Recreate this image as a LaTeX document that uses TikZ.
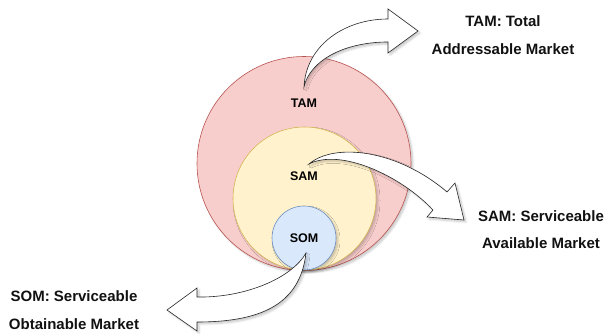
\documentclass[tikz,border=0pt]{standalone}
\usepackage{fontspec}
\setmainfont{Liberation Sans}
\usetikzlibrary{shadows.blur}

\definecolor{tamfill}{HTML}{F8CECC}
\definecolor{tamline}{HTML}{B85450}
\definecolor{samfill}{HTML}{FFF2CC}
\definecolor{samline}{HTML}{D6B656}
\definecolor{somfill}{HTML}{DAE8FC}
\definecolor{somline}{HTML}{6C8EBF}
\definecolor{captext}{HTML}{111111}

\tikzset{
  softshadow/.style={blur shadow={shadow xshift=2pt, shadow yshift=-2pt,
      shadow blur steps=6, shadow blur radius=2pt, shadow opacity=22}},
  market/.style={circle, inner sep=0pt, line width=0.6pt, softshadow},
  flexarrow/.style={fill=white, draw=black!85, line width=0.6pt,
      line join=miter, softshadow},
  inlabel/.style={font=\bfseries\fontsize{12.5}{14}\selectfont, inner sep=0pt},
  outlabel/.style={font=\bfseries\fontsize{15}{27.5}\selectfont,
      align=center, inner sep=0pt, text=captext},
}

\begin{document}
\begin{tikzpicture}[x=1pt, y=-1pt]
\useasboundingbox (0,0) rectangle (611,336);

% nested market circles, all touching at the bottom
\node[market, fill=tamfill, draw=tamline, minimum size=214pt] (tam) at (304,163.5) {};
\node[market, fill=samfill, draw=samline, minimum size=143pt] (sam) at (304.5,198.5) {};
\node[market, fill=somfill, draw=somline, minimum size=64pt] (som) at (304,238) {};

\node[inlabel] (tamtext) at (304,103) {TAM};
\node[inlabel] (samtext) at (304,176) {SAM};
\node[inlabel] (somtext) at (304,238) {SOM};

% curved block arrows from each circle to its caption
\coordinate (tamfrom) at (304,87);
\coordinate (samfrom) at (309,164);
\coordinate (somfrom) at (306,253);

\path[flexarrow] (tamfrom) .. controls (306,45) and (345,19) .. (388,19)
  -- (388,9) -- (418,31) -- (388,53) -- (388,42)
  .. controls (345,42) and (310,60) .. (tamfrom) -- cycle;

\path[flexarrow] (samfrom) .. controls (335,142) and (398,150) .. (447,192)
  -- (455,183) -- (464,220) -- (427,217) -- (433,210)
  .. controls (400,175) and (340,148) .. (samfrom) -- cycle;

\path[flexarrow] (somfrom) .. controls (292,278) and (245,298) .. (197,297)
  -- (197,288) -- (167,310) -- (197,331) -- (197,322)
  .. controls (260,322) and (300,305) .. (somfrom) -- cycle;

% captions
\node[outlabel] (tamcap) at (503,35) {TAM: Total\\Addressable Market};
\node[outlabel] (samcap) at (541,229.5) {SAM: Serviceable\\Available Market};
\node[outlabel] (somcap) at (74,310) {SOM: Serviceable\\Obtainable Market};
\end{tikzpicture}
\end{document}
